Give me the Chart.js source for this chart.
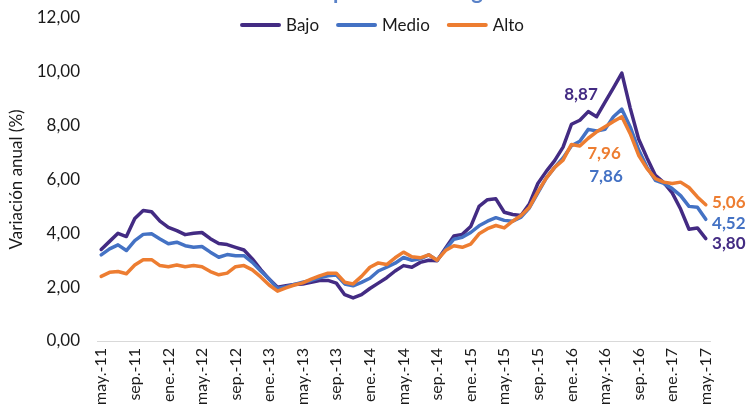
<!DOCTYPE html>
<html>
<head>
<meta charset="utf-8">
<script src="https://cdn.jsdelivr.net/npm/chart.js@4.4.0/dist/chart.umd.min.js"></script>
<style>
  html, body { margin: 0; padding: 0; background: #fff; overflow: hidden; }
  #wrap { position: absolute; left: 0; top: -21px; width: 746px; height: 442px; }
</style>
</head>
<body>
<div id="wrap"><canvas id="grafico" width="746" height="442"></canvas></div>
<script>
// meses de may.-11 a may.-17
const meses = [
  'may.-11', 'jun.-11', 'jul.-11', 'ago.-11', 'sep.-11', 'oct.-11', 'nov.-11', 'dic.-11',
  'ene.-12', 'feb.-12', 'mar.-12', 'abr.-12', 'may.-12', 'jun.-12', 'jul.-12', 'ago.-12', 'sep.-12', 'oct.-12', 'nov.-12', 'dic.-12',
  'ene.-13', 'feb.-13', 'mar.-13', 'abr.-13', 'may.-13', 'jun.-13', 'jul.-13', 'ago.-13', 'sep.-13', 'oct.-13', 'nov.-13', 'dic.-13',
  'ene.-14', 'feb.-14', 'mar.-14', 'abr.-14', 'may.-14', 'jun.-14', 'jul.-14', 'ago.-14', 'sep.-14', 'oct.-14', 'nov.-14', 'dic.-14',
  'ene.-15', 'feb.-15', 'mar.-15', 'abr.-15', 'may.-15', 'jun.-15', 'jul.-15', 'ago.-15', 'sep.-15', 'oct.-15', 'nov.-15', 'dic.-15',
  'ene.-16', 'feb.-16', 'mar.-16', 'abr.-16', 'may.-16', 'jun.-16', 'jul.-16', 'ago.-16', 'sep.-16', 'oct.-16', 'nov.-16', 'dic.-16',
  'ene.-17', 'feb.-17', 'mar.-17', 'abr.-17', 'may.-17'
];

const bajo = [
  3.40, 3.70, 4.00, 3.88, 4.55, 4.85, 4.80, 4.45,
  4.22, 4.10, 3.95, 4.00, 4.03, 3.80, 3.62, 3.58, 3.48, 3.38, 3.05, 2.65,
  2.30, 2.00, 2.05, 2.10, 2.12, 2.18, 2.25, 2.25, 2.15, 1.72, 1.60, 1.72,
  1.95, 2.15, 2.35, 2.60, 2.80, 2.74, 2.92, 3.00, 2.98, 3.45, 3.90, 3.96,
  4.25, 5.00, 5.25, 5.28, 4.78, 4.70, 4.66, 5.10, 5.85, 6.30, 6.70, 7.20,
  8.05, 8.20, 8.52, 8.33, 8.87, 9.40, 9.95, 8.65, 7.50, 6.80, 6.15, 5.88,
  5.50, 4.90, 4.15, 4.20, 3.80
];

const medio = [
  3.20, 3.42, 3.57, 3.36, 3.73, 3.96, 3.98, 3.79,
  3.61, 3.67, 3.54, 3.48, 3.51, 3.30, 3.11, 3.21, 3.17, 3.17, 2.92, 2.60,
  2.30, 1.95, 2.02, 2.10, 2.18, 2.25, 2.35, 2.42, 2.45, 2.12, 2.05, 2.18,
  2.33, 2.60, 2.74, 2.89, 3.10, 3.00, 3.05, 3.20, 3.00, 3.40, 3.78, 3.85,
  4.03, 4.28, 4.45, 4.58, 4.48, 4.45, 4.60, 4.95, 5.50, 6.05, 6.45, 6.80,
  7.25, 7.42, 7.86, 7.80, 7.86, 8.33, 8.61, 7.95, 7.10, 6.45, 5.97, 5.85,
  5.66, 5.40, 5.00, 4.97, 4.52
];

const alto = [
  2.40, 2.55, 2.58, 2.50, 2.82, 3.02, 3.02, 2.80,
  2.76, 2.82, 2.76, 2.80, 2.76, 2.58, 2.46, 2.52, 2.76, 2.80, 2.64, 2.38,
  2.08, 1.85, 1.97, 2.08, 2.16, 2.30, 2.42, 2.52, 2.52, 2.18, 2.12, 2.40,
  2.74, 2.90, 2.84, 3.09, 3.30, 3.13, 3.09, 3.20, 3.00, 3.36, 3.54, 3.48,
  3.60, 3.98, 4.17, 4.29, 4.20, 4.45, 4.66, 4.97, 5.55, 6.05, 6.45, 6.72,
  7.30, 7.24, 7.53, 7.77, 7.96, 8.15, 8.33, 7.70, 6.90, 6.40, 6.03, 5.90,
  5.85, 5.90, 5.70, 5.35, 5.06
];

// puntos con etiqueta de valor (may.-16 y may.-17)
const puntosEtiqueta = [60, 72];

const fmt = v => v.toFixed(2).replace('.', ',');

// desplazamiento de cada etiqueta respecto al punto
const desplaz = {
  Bajo:  { 60: [-24, -8], 72: [23, 5] },
  Medio: { 60: [1, 47],   72: [23, 4] },
  Alto:  { 60: [-1, 27],  72: [23, -2] }
};

const etiquetas = {
  id: 'etiquetas',
  afterDatasetsDraw(chart) {
    const ctx = chart.ctx;
    ctx.save();
    ctx.font = 'bold 17px Lato';
    ctx.textAlign = 'center';
    ctx.textBaseline = 'middle';
    chart.data.datasets.forEach((ds, di) => {
      const meta = chart.getDatasetMeta(di);
      puntosEtiqueta.forEach(i => {
        const pt = meta.data[i];
        const [dx, dy] = desplaz[ds.label][i];
        ctx.fillStyle = ds.borderColor;
        ctx.fillText(fmt(ds.data[i]), pt.x + dx, pt.y + dy);
      });
    });
    ctx.restore();
  }
};

// leyenda dibujada encima del area del grafico, como en Excel
const leyenda = {
  id: 'leyenda',
  afterDraw(chart) {
    const ctx = chart.ctx;
    ctx.save();
    ctx.font = '17px Lato';
    ctx.textBaseline = 'middle';
    const largo = 41, hueco = 5, sep = 17;
    const items = chart.data.datasets.map(d => ({
      label: d.label, color: d.borderColor, w: ctx.measureText(d.label).width
    }));
    const total = items.reduce((s, it) => s + largo + hueco + it.w, 0) + sep * (items.length - 1);
    let x = 382 - total / 2;
    const y = 46;
    items.forEach(it => {
      ctx.strokeStyle = it.color;
      ctx.lineWidth = 4;
      ctx.lineCap = 'round';
      ctx.beginPath();
      ctx.moveTo(x + 2, y);
      ctx.lineTo(x + largo - 2, y);
      ctx.stroke();
      ctx.fillStyle = '#1a1a1a';
      ctx.fillText(it.label, x + largo + hueco, y + 1);
      x += largo + hueco + it.w + sep;
    });
    ctx.restore();
  }
};

Chart.defaults.font.family = 'Lato';
Chart.defaults.color = '#1a1a1a';

const linea = (label, data, color, order) => ({
  label, data, order,
  borderColor: color,
  backgroundColor: color,
  borderWidth: 3.5,
  pointRadius: 0,
  tension: 0,
  borderJoinStyle: 'round',
  borderCapStyle: 'round'
});

new Chart(document.getElementById('grafico'), {
  type: 'line',
  data: {
    labels: meses,
    datasets: [
      linea('Bajo', bajo, '#432b83', 2),
      linea('Medio', medio, '#4472c4', 1),
      linea('Alto', alto, '#ed7d31', 0)
    ]
  },
  options: {
    responsive: false,
    animation: false,
    devicePixelRatio: 1,
    layout: { padding: { left: 0, right: 36, top: 0, bottom: 0 } },
    plugins: {
      legend: { display: false },
      tooltip: { enabled: false },
      title: {
        display: true,
        text: 'Inflación anual por nivel de ingreso',
        color: '#5a82c8',
        font: { size: 22, weight: 'bold' },
        padding: { top: 0, bottom: 12.5 }
      }
    },
    scales: {
      x: {
        offset: true,
        grid: { display: false, drawTicks: false },
        border: { display: true, color: '#d9d9d9', width: 1 },
        ticks: {
          autoSkip: false,
          minRotation: 90,
          maxRotation: 90,
          padding: 7,
          font: { size: 16 },
          callback(value, index) {
            return index % 4 === 0 ? meses[index] : '';
          }
        },
        afterFit(scale) { scale.height = 80; }
      },
      y: {
        min: 0,
        max: 12,
        grid: { display: false, drawTicks: false },
        border: { display: false },
        ticks: {
          stepSize: 2,
          padding: 17,
          font: { size: 17 },
          callback: v => fmt(v)
        },
        title: {
          display: true,
          text: 'Variación anual (%)',
          font: { size: 17 },
          padding: { top: 6, bottom: 0 }
        },
        afterFit(scale) { scale.width = 97; }
      }
    }
  },
  plugins: [etiquetas, leyenda]
});
</script>
</body>
</html>
